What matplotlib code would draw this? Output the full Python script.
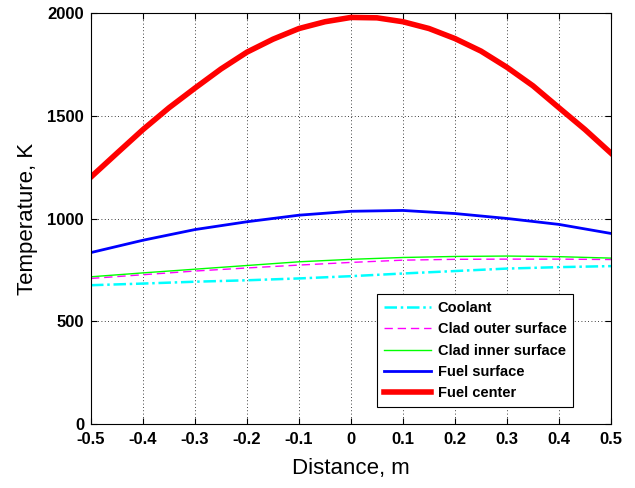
import matplotlib.pyplot as plt

plt.rcParams['font.family'] = ['Liberation Sans', 'DejaVu Sans']
plt.rcParams['axes.unicode_minus'] = False

# Axial position along the rod, m
distance = [-0.5, -0.4, -0.3, -0.2, -0.1, 0.0, 0.1, 0.2, 0.3, 0.4, 0.5]

# Temperatures, K
coolant = [676, 684, 693, 700, 709, 720, 733, 745, 757, 764, 769]
clad_outer = [709, 727, 745, 760, 774, 787, 798, 802, 803, 803, 801]
clad_inner = [717, 736, 754, 772, 790, 802, 811, 816, 818, 815, 808]
fuel_surface = [835, 895, 947, 985, 1017, 1036, 1040, 1025, 1001, 972, 928]

# Fuel centerline is read on a finer grid
distance_fine = [-0.5, -0.45, -0.4, -0.35, -0.3, -0.25, -0.2, -0.15, -0.1, -0.05, 0.0,
                 0.05, 0.1, 0.15, 0.2, 0.25, 0.3, 0.35, 0.4, 0.45, 0.5]
fuel_center = [1203, 1319, 1434, 1540, 1636, 1729, 1811, 1874, 1926, 1959, 1980,
               1978, 1959, 1926, 1877, 1816, 1737, 1647, 1540, 1434, 1319]

xticks = [-0.5, -0.4, -0.3, -0.2, -0.1, 0.0, 0.1, 0.2, 0.3, 0.4, 0.5]
xticklabels = ['-0.5', '-0.4', '-0.3', '-0.2', '-0.1', '0', '0.1', '0.2', '0.3', '0.4', '0.5']
yticks = [0, 500, 1000, 1500, 2000]

fig = plt.figure(figsize=(6.35, 4.88), dpi=100)
ax = fig.add_axes([0.1433, 0.1311, 0.8189, 0.8416])

ax.plot(distance, coolant, color='cyan', linewidth=1.8,
        linestyle=(0, (5.0, 1.5, 1.0, 1.5)), label='Coolant')
ax.plot(distance, clad_outer, color='magenta', linewidth=1.0,
        linestyle=(0, (6, 3.5)), label='Clad outer surface')
ax.plot(distance, clad_inner, color='#00ff00', linewidth=1.0,
        label='Clad inner surface')
ax.plot(distance, fuel_surface, color='blue', linewidth=2.0,
        label='Fuel surface')
ax.plot(distance_fine, fuel_center, color='red', linewidth=4.0,
        label='Fuel center')

ax.set_xlim(-0.5, 0.5)
ax.set_ylim(0, 2000)
ax.set_xticks(xticks)
ax.set_xticklabels(xticklabels)
ax.set_yticks(yticks)

ax.grid(True, color='black', linestyle=(0, (1, 3)), linewidth=0.6)
ax.tick_params(direction='in', top=True, right=True, length=4,
               labelsize=12)
ax.tick_params(axis='x', pad=6)
ax.tick_params(axis='y', pad=5)
for lbl in ax.get_xticklabels() + ax.get_yticklabels():
    lbl.set_fontweight('bold')
for spine in ax.spines.values():
    spine.set_linewidth(0.8)

ax.set_xlabel('Distance, m', fontsize=16, labelpad=8)
ax.set_ylabel('Temperature, K', fontsize=16, labelpad=7)

leg = ax.legend(loc='lower left', bbox_to_anchor=(0.5506, 0.042),
                fancybox=False, framealpha=1, edgecolor='black',
                prop={'size': 10.5, 'weight': 'bold'}, handlelength=3.2,
                labelspacing=0.5, borderpad=0.45, handletextpad=0.5,
                borderaxespad=0)
leg.get_frame().set_linewidth(0.8)

fig.savefig('out.png', dpi=100)
